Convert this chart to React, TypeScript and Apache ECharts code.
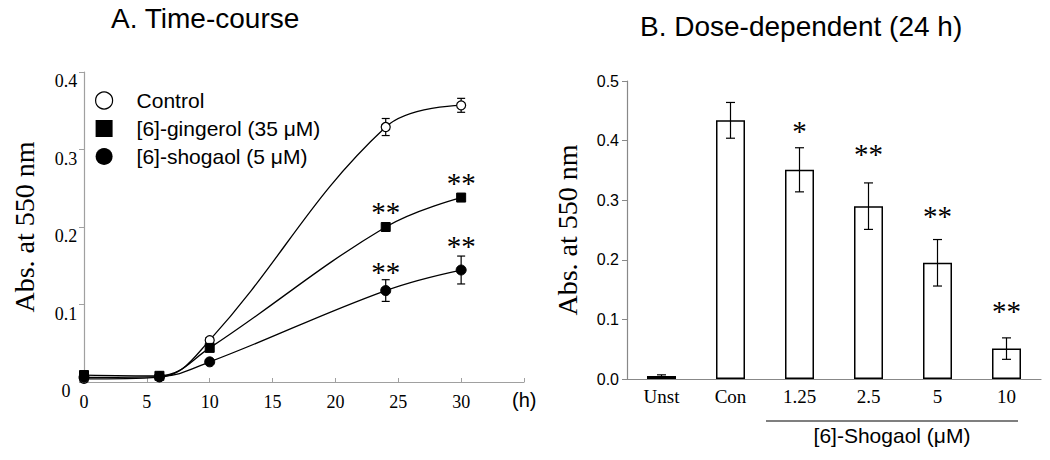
import React, { useEffect, useRef } from "react";
import * as echarts from "echarts";

const SERIF = "Liberation Serif";
const SANS = "Liberation Sans";

// Panel A: time-course
const timePoints = [0, 6, 10, 24, 30];
const controlMean = [0.004, 0.006, 0.054, 0.329, 0.357];
const controlErr = [0.001, 0.001, 0.003, 0.011, 0.009];
const gingerolMean = [0.009, 0.008, 0.044, 0.2, 0.238];
const gingerolErr = [0.001, 0.001, 0.002, 0.003, 0.004];
const shogaolMean = [0.006, 0.007, 0.026, 0.118, 0.1445];
const shogaolErr = [0.001, 0.001, 0.002, 0.014, 0.018];
const gingerolStars = ["", "", "", "**", "**"];
const shogaolStars = ["", "", "", "**", "**"];
const seriesNames = ["Control", "[6]-gingerol (35 μM)", "[6]-shogaol (5 μM)"];

// Panel B: dose-dependent
const doseCategories = ["Unst", "Con", "1.25", "2.5", "5", "10"];
const doseMean = [0.005, 0.434, 0.351, 0.29, 0.195, 0.051];
const doseErr = [0.002, 0.03, 0.037, 0.039, 0.039, 0.018];
const doseStars = ["", "", "*", "**", "**", "**"];

const timeStarDist = [0, 0, 0, -4, -5];
const shogStarDist = [0, 0, 0, -1, 4];
const doseStarDist = [0, 0, 24, 38, 32, 23];

function errorRender(cap: number) {
  return (params: any, api: any) => {
    const x = api.value(0);
    const lo = api.coord([x, api.value(1)]);
    const hi = api.coord([x, api.value(2)]);
    const style = { stroke: "#000", lineWidth: 1.2 };
    return {
      type: "group",
      children: [
        { type: "line", shape: { x1: lo[0], y1: lo[1], x2: hi[0], y2: hi[1] }, style },
        { type: "line", shape: { x1: hi[0] - cap, y1: hi[1], x2: hi[0] + cap, y2: hi[1] }, style },
        { type: "line", shape: { x1: lo[0] - cap, y1: lo[1], x2: lo[0] + cap, y2: lo[1] }, style },
      ],
    };
  };
}

const starLabel = (text: string, dist: number, pos = "top") => ({
  show: text !== "",
  formatter: text,
  position: pos,
  distance: dist,
  fontFamily: SERIF,
  fontSize: 29,
  color: "#000",
});

export default function App() {
  const ref = useRef<HTMLDivElement>(null);
  useEffect(() => {
    if (!ref.current) return;
    const chart = echarts.init(ref.current, null, { renderer: "svg" });
    const timeErr = (means: number[], errs: number[]) =>
      timePoints.map((t, i) => [t, means[i] - errs[i], means[i] + errs[i]]);

    const option: any = {
      animation: false,
      title: [
        {
          text: "A. Time-course",
          left: 111,
          top: 4,
          padding: 0,
          textStyle: { fontFamily: SANS, fontSize: 28, fontWeight: "normal", color: "#000" },
        },
        {
          text: "B. Dose-dependent (24 h)",
          left: 640,
          top: 12,
          padding: 0,
          textStyle: { fontFamily: SANS, fontSize: 28, fontWeight: "normal", color: "#000" },
        },
      ],
      legend: {
        orient: "vertical",
        left: 95,
        top: 90,
        padding: 0,
        itemWidth: 17,
        itemHeight: 17,
        itemGap: 7,
        textStyle: { fontFamily: SANS, fontSize: 21, color: "#000", padding: [0, 0, 0, 19] },
        data: [
          { name: seriesNames[0], icon: "circle", itemStyle: { color: "#fff", borderColor: "#000", borderWidth: 1.2 } },
          { name: seriesNames[1], icon: "rect", itemStyle: { color: "#000", borderColor: "#000" } },
          { name: seriesNames[2], icon: "circle", itemStyle: { color: "#000", borderColor: "#000" } },
        ],
      },
      grid: [
        { left: 84, top: 72, width: 440, height: 310 },
        { left: 627, top: 81, width: 414, height: 298 },
      ],
      xAxis: [
        {
          gridIndex: 0,
          type: "value",
          min: 0,
          max: 35,
          interval: 5,
          axisLine: { lineStyle: { color: "#a0a0a0", width: 1.2 } },
          axisTick: { inside: true, length: 4, lineStyle: { color: "#a0a0a0" } },
          splitLine: { show: false },
          axisLabel: {
            fontFamily: SERIF,
            fontSize: 18,
            color: "#000",
            margin: 11,
            formatter: (v: number) => (v >= 35 ? "" : String(v)),
          },
        },
        {
          gridIndex: 1,
          type: "category",
          data: doseCategories,
          axisLine: { lineStyle: { color: "#888", width: 1.2 } },
          axisTick: { length: 5, lineStyle: { color: "#888" } },
          axisLabel: { fontFamily: SERIF, fontSize: 19, color: "#000", margin: 8 },
        },
      ],
      yAxis: [
        {
          gridIndex: 0,
          type: "value",
          min: 0,
          max: 0.4,
          interval: 0.1,
          name: "Abs. at 550 nm",
          nameLocation: "middle",
          nameGap: 46,
          nameTextStyle: { fontFamily: SERIF, fontSize: 28, color: "#000" },
          axisLine: { show: true, lineStyle: { color: "#a0a0a0", width: 1.2 } },
          axisTick: { show: true, length: 5, lineStyle: { color: "#a0a0a0" } },
          splitLine: { show: false },
          axisLabel: {
            fontFamily: SERIF,
            fontSize: 18,
            color: "#000",
            margin: 18,
            align: "center",
            verticalAlign: "top",
            formatter: (v: number) => (v === 0 ? "0" : v.toFixed(1)),
          },
        },
        {
          gridIndex: 1,
          type: "value",
          min: 0,
          max: 0.5,
          interval: 0.1,
          name: "Abs. at 550 nm",
          nameLocation: "middle",
          nameGap: 46,
          nameTextStyle: { fontFamily: SERIF, fontSize: 28, color: "#000" },
          axisLine: { show: true, lineStyle: { color: "#888", width: 1.2 } },
          axisTick: { show: true, length: 5, lineStyle: { color: "#888" } },
          splitLine: { show: false },
          axisLabel: {
            fontFamily: SANS,
            fontSize: 16,
            color: "#000",
            margin: 8,
            formatter: (v: number) => v.toFixed(1),
          },
        },
      ],
      series: [
        {
          type: "custom",
          xAxisIndex: 0,
          yAxisIndex: 0,
          renderItem: errorRender(4),
          encode: { x: 0, y: [1, 2] },
          data: [
            ...timeErr(controlMean, controlErr),
            ...timeErr(gingerolMean, gingerolErr),
            ...timeErr(shogaolMean, shogaolErr),
          ],
          z: 1,
          silent: true,
        },
        {
          name: seriesNames[0],
          type: "line",
          xAxisIndex: 0,
          yAxisIndex: 0,
          smooth: 0.4,
          symbol: "circle",
          symbolSize: 9,
          itemStyle: { color: "#fff", borderColor: "#000", borderWidth: 1.2 },
          lineStyle: { color: "#000", width: 1.3 },
          data: timePoints.map((t, i) => [t, controlMean[i]]),
          z: 3,
        },
        {
          name: seriesNames[1],
          type: "line",
          xAxisIndex: 0,
          yAxisIndex: 0,
          smooth: 0.4,
          symbol: "rect",
          symbolSize: 9,
          itemStyle: { color: "#000", borderColor: "#000" },
          lineStyle: { color: "#000", width: 1.3 },
          data: timePoints.map((t, i) => ({
            value: [t, gingerolMean[i]],
            label: starLabel(gingerolStars[i], timeStarDist[i]),
          })),
          z: 3,
        },
        {
          name: seriesNames[2],
          type: "line",
          xAxisIndex: 0,
          yAxisIndex: 0,
          smooth: 0.4,
          symbol: "circle",
          symbolSize: 10,
          itemStyle: { color: "#000", borderColor: "#000" },
          lineStyle: { color: "#000", width: 1.3 },
          data: timePoints.map((t, i) => ({
            value: [t, shogaolMean[i]],
            label: starLabel(shogaolStars[i], shogStarDist[i]),
          })),
          z: 3,
        },
        {
          name: "dose",
          type: "bar",
          xAxisIndex: 1,
          yAxisIndex: 1,
          barWidth: 29,
          itemStyle: { color: "#fff", borderColor: "#000", borderWidth: 1.5 },
          data: doseMean.map((v, i) => ({
            value: v,
            label: starLabel(doseStars[i], doseStarDist[i]),
          })),
          z: 2,
        },
        {
          type: "custom",
          xAxisIndex: 1,
          yAxisIndex: 1,
          renderItem: errorRender(4.5),
          encode: { x: 0, y: [1, 2] },
          data: doseMean.map((v, i) => [i, v - doseErr[i], v + doseErr[i]]),
          z: 4,
          silent: true,
        },
      ],
      graphic: [
        {
          type: "text",
          left: 512,
          top: 390,
          style: { text: "(h)", fontFamily: SANS, fontSize: 20, fill: "#000" },
        },
        {
          type: "line",
          shape: { x1: 766, y1: 421, x2: 1018, y2: 421 },
          style: { stroke: "#000", lineWidth: 1.2 },
        },
        {
          type: "text",
          x: 892,
          y: 435,
          style: {
            text: "[6]-Shogaol (μM)",
            fontFamily: SANS,
            fontSize: 21,
            fill: "#000",
            align: "center",
            verticalAlign: "middle",
          },
        },
      ],
    };
    chart.setOption(option);
    return () => chart.dispose();
  }, []);
  return <div ref={ref} style={{ width: 1050, height: 460, position: "absolute", left: 0, top: 0 }} />;
}
